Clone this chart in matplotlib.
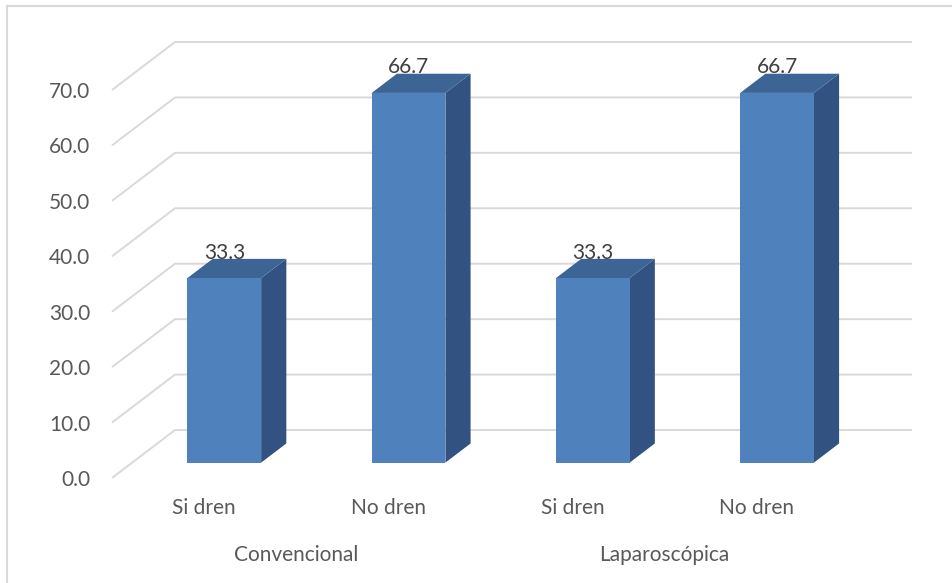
import matplotlib
matplotlib.use("Agg")
import matplotlib.pyplot as plt
from matplotlib.patches import Polygon
from matplotlib.lines import Line2D

# data
groups = ["Convencional", "Laparoscópica"]
subcats = ["Si dren", "No dren", "Si dren", "No dren"]
values = [33.3, 66.7, 33.3, 66.7]
yticks = [0, 10, 20, 30, 40, 50, 60, 70]

plt.rcParams['font.family'] = ['Lato', 'DejaVu Sans']

W, H = 953, 583
fig = plt.figure(figsize=(W / 100, H / 100), dpi=100)
# axes = front plane of the 3d box
ax = fig.add_axes([112 / W, 105 / H, 737 / W, 388 / H])
ax.set_xlim(0, 4)
ax.set_ylim(0, 70)
for s in ax.spines.values():
    s.set_visible(False)

DX, DY = 0.342, 8.66      # offset from front plane to back wall (data units)
D0, D1 = 0.32, 0.72       # bar depth range (fraction of floor depth)
BW = 0.4                  # bar width (fraction of slot)

def at(x, y, d):
    return (x + d * DX, y + d * DY)

# gridlines: diagonal on the side wall, then along the back wall
for v in yticks:
    ax.plot([0, DX, 4 + DX], [v, v + DY, v + DY], color='#d9d9d9', lw=1.4,
            clip_on=False, zorder=0, solid_capstyle='butt')

front_c = '#4f81bd'
top_c = '#3c6596'
side_c = '#325281'

for i, v in enumerate(values):
    x0 = i + 0.5 - BW / 2
    x1 = i + 0.5 + BW / 2
    side = [at(x1, 0, D0), at(x1, 0, D1), at(x1, v, D1), at(x1, v, D0)]
    top = [at(x0, v, D0), at(x1, v, D0), at(x1, v, D1), at(x0, v, D1)]
    front = [at(x0, 0, D0), at(x1, 0, D0), at(x1, v, D0), at(x0, v, D0)]
    for pts, c in [(side, side_c), (top, top_c), (front, front_c)]:
        ax.add_patch(Polygon(pts, closed=True, facecolor=c, edgecolor='none',
                             clip_on=False, zorder=2))
    lx, ly = at(i + 0.5, v, D0)
    ly = v + D1 * DY
    ax.annotate("%.1f" % v, (lx, ly), xytext=(0, 4.5), textcoords='offset points',
                ha='center', va='center', fontsize=15, color='#404040',
                annotation_clip=False, zorder=3)

ax.set_yticks(yticks)
ax.set_yticklabels(["%.1f" % t for t in yticks])
ax.tick_params(axis='y', length=0, pad=15.8, labelsize=15, labelcolor='#595959')
ax.set_xticks([])

for i, lab in enumerate(subcats):
    ax.annotate(lab, (i + 0.5, 0), xytext=(0, -21.6), textcoords='offset points',
                ha='center', va='center', fontsize=15, color='#595959',
                annotation_clip=False)
for j, g in enumerate(groups):
    ax.annotate(g, (2 * j + 1, 0), xytext=(0, -55.4), textcoords='offset points',
                ha='center', va='center', fontsize=15, color='#595959',
                annotation_clip=False)

# chart frame (top and left edges)
fig.add_artist(Line2D([7 / W, 1], [1 - 6 / H, 1 - 6 / H], color='#d9d9d9', lw=1.5))
fig.add_artist(Line2D([7 / W, 7 / W], [0, 1 - 6 / H], color='#d9d9d9', lw=1.5))

fig.savefig("out.png", dpi=100, facecolor='white')
